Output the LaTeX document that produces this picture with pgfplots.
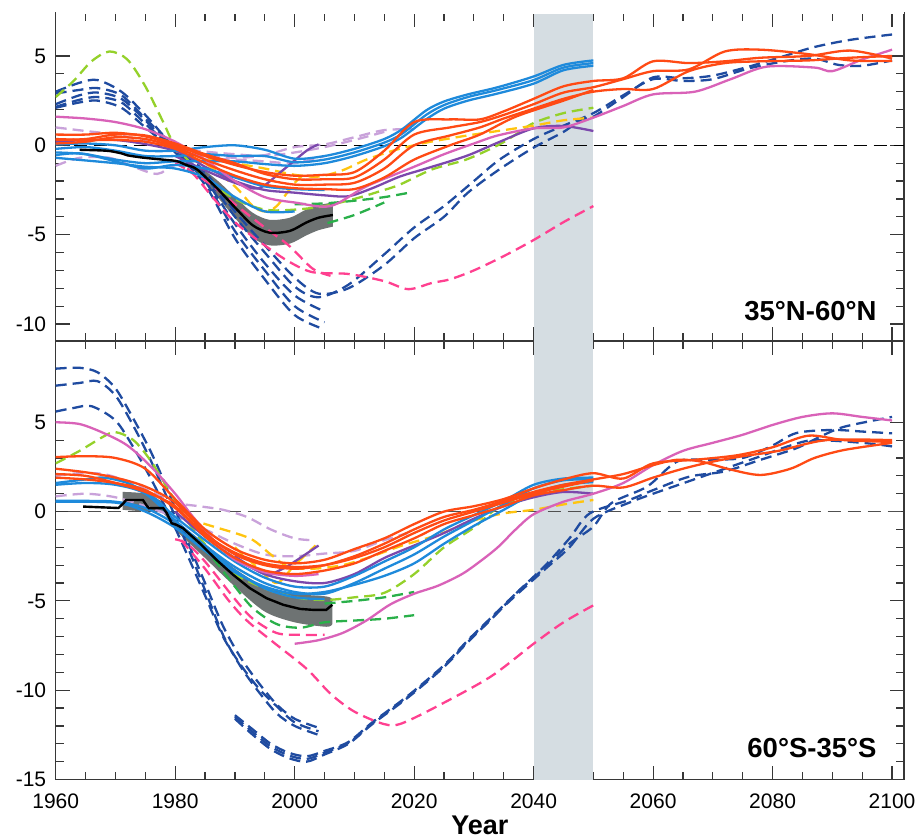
\documentclass[border=0pt]{standalone}
\usepackage{pgfplots}
\pgfplotsset{compat=1.18}
\usepgfplotslibrary{fillbetween}
\usepackage{fontspec}
\setmainfont{Liberation Sans}

\definecolor{cDB}{RGB}{31,75,160}
\definecolor{cLB}{RGB}{30,138,219}
\definecolor{cOR}{RGB}{255,74,20}
\definecolor{cMG}{RGB}{217,98,184}
\definecolor{cLV}{RGB}{201,162,218}
\definecolor{cPU}{RGB}{123,72,172}
\definecolor{cLM}{RGB}{148,209,42}
\definecolor{cGR}{RGB}{42,176,74}
\definecolor{cYL}{RGB}{255,196,15}
\definecolor{cHP}{RGB}{255,64,144}
\definecolor{obsgray}{RGB}{110,115,115}
\definecolor{period}{RGB}{213,221,226}
\definecolor{axgray}{RGB}{55,55,55}

\tikzset{labelfont/.style={font=\bfseries\fontsize{27.5}{30}\selectfont}}

\pgfplotsset{
  panel/.style={
    width=848.3pt, scale only axis,
    xmin=1960, xmax=2102,
    xtick={1960,1980,...,2100}, minor x tick num=3,
    minor y tick num=4,
    tick align=inside,
    major tick length=14pt, minor tick length=8pt,
    every tick/.append style={line width=1.2pt, color=axgray},
    axis line style={line width=1.3pt, color=axgray},
    ticklabel style={font=\fontsize{21}{24}\selectfont, color=black},
    /pgf/number format/assume math mode=true,
    /pgf/number format/1000 sep={},
    yticklabel style={xshift=-6pt},
    xticklabel style={yshift=-11pt},
  },
  sol/.style={line width=2.3pt, smooth},
  dsh/.style={line width=2.3pt, smooth, dash pattern=on 11pt off 6pt},
  db/.style={dsh, draw=cDB},
  lb/.style={sol, draw=cLB},
  or/.style={sol, draw=cOR},
  mg/.style={sol, draw=cMG},
  pu/.style={sol, draw=cPU},
  lv/.style={dsh, draw=cLV},
  lm/.style={dsh, draw=cLM},
  gr/.style={dsh, draw=cGR},
  yl/.style={dsh, draw=cYL},
  hp/.style={dsh, draw=cHP},
  zeroline/.style={line width=1.4pt, dash pattern=on 13pt off 7pt},
  obs/.style={line width=2.4pt, draw=black},
}

\begin{document}
\begin{tikzpicture}

% ---------------- 60S-35S ----------------
\begin{axis}[panel, name=bot, at={(0,0)}, anchor=south west,
  height=438.5pt, ymin=-15, ymax=9.55, ytick={-15,-10,...,5},
  xlabel={Year},
  xlabel style={at={(axis description cs:0.5,0)}, anchor=base, yshift=-55pt,
    font=\bfseries\fontsize{27}{30}\selectfont}]
% 2040-2050 period
\addplot[name path=pbl, draw=none] coordinates {(2040,-15) (2050,-15)};
\addplot[name path=pbu, draw=none] coordinates {(2040,9.55) (2050,9.55)};
\addplot[fill=period, draw=none] fill between[of=pbl and pbu];
\addplot[zeroline, draw={rgb,255:red,80;green,80;blue,80}] coordinates {(1962,0) (2102,0)};

% observations, uncertainty range
\addplot[name path=bup, draw=none, smooth] coordinates {(1971.2,1.1) (1975,1.0) (1978,0.5) (1980,-0.45) (1985,-1.8) (1990,-3.2) (1995,-4.2) (2000,-4.6) (2005.3,-4.75) (2006.3,-4.9)};
\addplot[name path=blo, draw=none, smooth] coordinates {(1971.2,0.1) (1975,0.0) (1978,-0.1) (1980,-1.0) (1985,-2.6) (1990,-4.2) (1995,-5.6) (2000,-6.2) (2005.3,-6.45) (2006.3,-6.3)};
\addplot[fill=obsgray, draw=none] fill between[of=bup and blo];

% lavender dashed
\addplot[lv] coordinates {(1960,2.0) (1964,2.15) (1968,2.1) (1972,1.7) (1976,1.1) (1980,0.5) (1984,0.3) (1988,0.1) (1992,-0.3) (1996,-1.0) (2000,-1.5) (2003,-1.6)};
\addplot[lv] coordinates {(1960,0.85) (1965,1.0) (1970,0.8) (1975,0.3) (1980,-0.3) (1985,-1.0) (1990,-1.8) (1995,-2.4) (2000,-2.5) (2005,-2.35) (2010,-2.2) (2015,-1.6) (2019,-1.2)};

% dark blue dashed
\addplot[db] coordinates {(1960,8.0) (1964,8.05) (1967,7.8) (1970,6.9) (1973,5.2) (1976,3.3) (1979,1.0) (1982,-1.6) (1985,-4.0) (1988,-6.4) (1991,-8.2) (1994,-9.6) (1997,-10.8) (2000,-11.6) (2004,-12.1)};
\addplot[db] coordinates {(1960,7.05) (1964,7.2) (1967,7.3) (1970,6.5) (1973,4.8) (1976,2.8) (1979,0.5) (1982,-1.9) (1985,-4.4) (1988,-6.9) (1991,-8.7) (1994,-10.1) (1997,-11.3) (2000,-12.0) (2004,-12.5)};
\addplot[db] coordinates {(1960,5.6) (1963,5.8) (1966,5.9) (1970,5.1) (1973,3.6) (1976,1.8) (1979,-0.2) (1982,-2.4) (1985,-4.7) (1988,-7.0) (1991,-8.6) (1994,-9.9) (1997,-10.9) (2000,-11.8) (2004,-12.3)};
\addplot[db] coordinates {(1990,-11.4) (1993,-12.2) (1996,-13.0) (1999,-13.5) (2002,-13.7) (2005,-13.4) (2009,-12.9) (2013,-11.8) (2019,-10.3) (2025,-8.6) (2029,-7.2) (2033,-5.9) (2037,-4.6) (2042,-3.1) (2046,-1.8) (2050,-0.84) (2053,0.47) (2059,1.4) (2064,2.8) (2069,2.9) (2075,3.0) (2080,3.7) (2084,4.4) (2090,4.57) (2095,4.48) (2100,4.38)};
\addplot[db] coordinates {(1990,-11.6) (1993,-12.5) (1996,-13.3) (1999,-13.8) (2002,-14.0) (2005,-13.6) (2009,-13.0) (2013,-11.9) (2019,-10.4) (2025,-8.7) (2029,-7.3) (2033,-6.0) (2037,-4.6) (2042,-3.0) (2046,-1.5) (2049.4,-0.1) (2056,0.65) (2060,1.2) (2066,1.95) (2072,2.25) (2078,2.9) (2084,3.55) (2088,4.2) (2092,4.75) (2100,5.3)};
\addplot[db] coordinates {(1990,-11.5) (1993,-12.35) (1996,-13.15) (1999,-13.65) (2002,-13.85) (2005,-13.5) (2009,-12.95) (2013,-11.85) (2019,-10.35) (2025,-8.65) (2029,-7.25) (2033,-5.95) (2037,-4.7) (2042,-3.2) (2046,-2.0) (2050,-0.4) (2056,0.5) (2060,1.0) (2066,1.7) (2072,2.4) (2078,3.1) (2083,3.7) (2087,4.0) (2095,3.85) (2100,3.65)};

% hot pink dashed
\addplot[hp] coordinates {(1980,-1.55) (1982,-1.8) (1985,-2.8) (1990,-4.9) (1993,-6.0) (1997,-6.8) (2001,-6.9) (2005,-6.9)};
\addplot[hp] coordinates {(1981,-1.6) (1985,-3.2) (1989,-5.0) (1992,-6.1) (1996,-7.2) (2002,-8.8) (2006,-10.2) (2010,-11.2) (2015,-11.9) (2018,-11.85) (2025,-10.7) (2033,-9.2) (2040,-7.4) (2045,-6.2) (2050,-5.25)};

% green dashed
\addplot[gr] coordinates {(1982,-1.4) (1986,-2.5) (1990,-4.2) (1993,-5.4) (1997,-6.3) (2001,-6.5) (2005,-6.2) (2010,-6.1) (2015,-6.0) (2020,-5.8)};
\addplot[gr] coordinates {(2005,-5.15) (2010,-5.0) (2015,-4.8) (2020,-4.5)};

% lime dashed
\addplot[lm] coordinates {(1960,2.7) (1964,3.4) (1968,4.2) (1970,4.45) (1973,4.0) (1976,2.8) (1980,0.6) (1983,-1.0) (1987,-2.6) (1990,-3.5) (1995,-4.3) (2000,-4.8) (2005,-4.95) (2010,-4.8) (2015,-4.55) (2020,-3.5) (2025,-2.0) (2030,-0.9) (2034,0.2) (2040,0.95) (2045,1.25) (2050,1.45)};

% yellow dashed
\addplot[yl] coordinates {(1982,-0.4) (1986,-0.8) (1992.5,-1.5) (1996,-2.4) (1999,-3.1) (2003,-3.2) (2008,-3.0) (2013,-2.5) (2018,-1.9) (2024,-1.3) (2030,-0.5) (2035,-0.1) (2040,0.1) (2045,0.4) (2050,0.65)};
\addplot[yl] coordinates {(1990,-2.0) (1994,-3.2) (1997,-4.0) (2000,-3.0) (2003.5,-1.9)};

% purple
\addplot[pu] coordinates {(1990,-2.5) (1995,-3.5) (1998,-3.2) (2000,-2.8) (2004,-1.9)};
\addplot[pu] coordinates {(1980,0.0) (1985,-1.4) (1990,-2.6) (1995,-3.5) (2000,-3.9) (2005,-4.0) (2010,-3.5) (2015,-2.6) (2020,-1.9) (2025,-1.2) (2030,-0.4) (2035,0.3) (2040,0.8) (2045,1.1) (2050,1.0)};

% light blue
\addplot[lb] coordinates {(1960,1.6) (1965,1.8) (1968,1.9) (1972,1.6) (1976,0.9) (1980,-0.3) (1985,-1.6) (1990,-2.8) (1995,-3.7) (2000,-4.2) (2005,-4.2) (2010,-3.6) (2015,-2.8) (2020,-2.0) (2025,-1.0) (2030,-0.2) (2035,0.6) (2040,1.5) (2045,1.85) (2050,1.9)};
\addplot[lb] coordinates {(1960,1.5) (1965,1.6) (1970,1.5) (1975,1.0) (1980,-0.5) (1985,-1.9) (1990,-3.1) (1995,-4.0) (2000,-4.5) (2005,-4.6) (2010,-4.0) (2015,-3.2) (2020,-2.4) (2025,-1.4) (2030,-0.5) (2035,0.4) (2040,1.3) (2045,1.75) (2050,1.8)};
\addplot[lb] coordinates {(1960,0.6) (1965,0.6) (1970,0.55) (1975,0.2) (1980,-0.7) (1985,-2.0) (1990,-3.3) (1995,-4.3) (2000,-4.8) (2005,-4.9)};
\addplot[lb] coordinates {(1960,0.55) (1970,0.5) (1975,0.0) (1980,-0.9) (1985,-2.2) (1990,-3.4) (1995,-4.2) (2000,-4.6) (2005,-4.5) (2010,-4.1) (2015,-3.6) (2020,-2.9) (2025,-1.8) (2030,-0.8) (2035,0.1) (2040,1.0) (2045,1.5) (2050,1.65)};

% magenta
\addplot[mg] coordinates {(1960,5.0) (1964,4.9) (1968,4.4) (1972,3.7) (1976,2.5) (1980,1.0) (1983,-0.3) (1987,-1.8) (1990,-2.7) (1995,-3.4) (2000,-3.6) (2004,-3.5)};
\addplot[mg] coordinates {(2000,-7.4) (2004,-7.2) (2008,-6.8) (2012,-6.1) (2016,-5.2) (2020,-4.6) (2024,-4.15) (2028,-3.5) (2031,-2.8) (2034,-2.0) (2037,-1.0) (2040,-0.15) (2045,0.55) (2050,1.0) (2055,1.6) (2060,2.6) (2065,3.4) (2070,3.85) (2075,4.3) (2080,4.85) (2085,5.3) (2090,5.5) (2095,5.3) (2100,5.1)};

% orange-red
\addplot[or] coordinates {(1960,3.05) (1965,3.1) (1970,3.0) (1975,2.4) (1980,0.7) (1985,-1.0) (1990,-2.1) (1995,-2.7) (2000,-2.9) (2005,-2.7) (2010,-2.1) (2015,-1.5) (2020,-0.7) (2025,0.0) (2030,0.3) (2035,0.7) (2040,1.3) (2045,1.8) (2050,2.15) (2055,1.85) (2060,2.7) (2067,2.9) (2074,3.15) (2080,3.6) (2086,4.25) (2092,4.0) (2100,3.9)};
\addplot[or] coordinates {(1960,2.4) (1965,2.2) (1970,1.9) (1975,1.4) (1980,0.5) (1985,-1.2) (1990,-2.4) (1995,-3.0) (2000,-3.2) (2005,-3.0) (2010,-2.5) (2015,-1.8) (2020,-1.0) (2025,-0.3) (2030,0.1) (2035,0.6) (2040,1.1) (2045,1.5) (2050,1.8) (2055,2.1) (2060,2.6) (2064,2.9) (2068,2.8) (2073,2.35) (2078,2.05) (2083,2.4) (2087,3.0) (2092,3.45) (2100,3.85)};
\addplot[or] coordinates {(1960,2.1) (1965,2.0) (1970,1.6) (1975,1.1) (1980,0.3) (1985,-1.4) (1990,-2.6) (1995,-3.3) (2000,-3.5) (2005,-3.3) (2010,-2.9) (2015,-2.2) (2020,-1.5) (2025,-0.7) (2030,-0.2) (2035,0.3) (2040,0.9) (2045,1.2) (2050,1.45) (2055,1.35) (2060,1.9) (2065,2.4) (2070,2.8) (2075,3.1) (2081,3.4) (2089,4.0) (2100,4.0)};
\addplot[or] coordinates {(1960,1.9) (1965,1.8) (1970,1.6) (1975,1.2) (1980,0.2) (1985,-1.3) (1990,-2.3) (1995,-2.9) (2000,-3.1) (2005,-3.0) (2010,-2.6) (2015,-2.0) (2020,-1.2) (2025,-0.5) (2030,0.0) (2035,0.5) (2040,1.0) (2045,1.4) (2050,1.75)};

% observed mean
\addplot[obs] coordinates {(1964.6,0.28) (1970.5,0.2) (1971.3,0.45) (1971.8,0.65) (1974.6,0.65) (1975.3,0.3) (1975.6,0.19) (1978,0.19) (1978.6,-0.09) (1979.4,-0.65) (1980.2,-0.74) (1981.3,-0.93) (1984.1,-1.77) (1986.9,-2.7) (1989.7,-3.54) (1992.5,-4.29) (1995.3,-4.85) (1998.1,-5.22) (2000.9,-5.45) (2003,-5.5) (2005.3,-5.5) (2006.3,-5.22)};

\node[labelfont, anchor=base east] at (rel axis cs:0.9717,0.0513) {60°S-35°S};
\end{axis}

% ---------------- 35N-60N ----------------
\begin{axis}[panel, name=top, at={(0,438.5pt)}, anchor=south west,
  height=328.3pt, ymin=-10.95, ymax=7.42, ytick={-10,-5,...,5},
  xticklabels={}]
\addplot[name path=qbl, draw=none] coordinates {(2040,-10.95) (2050,-10.95)};
\addplot[name path=qbu, draw=none] coordinates {(2040,7.42) (2050,7.42)};
\addplot[fill=period, draw=none] fill between[of=qbl and qbu];
\addplot[zeroline, draw=black] coordinates {(1963,0) (2102,0)};

\addplot[name path=tup, draw=none, smooth] coordinates {(1980,-0.85) (1983.6,-1.14) (1986.9,-1.92) (1990.3,-2.98) (1993,-3.78) (1995.8,-4.17) (1999.2,-4.05) (2001.9,-3.6) (2004,-3.35) (2006.4,-3.2)};
\addplot[name path=tlo, draw=none, smooth] coordinates {(1980,-0.9) (1983.6,-1.54) (1986.9,-2.82) (1990.3,-4.18) (1993,-5.18) (1995.8,-5.6) (1999.2,-5.5) (2001.9,-5.05) (2004,-4.75) (2006.4,-4.55)};
\addplot[fill=obsgray, draw=none] fill between[of=tup and tlo];

% lavender dashed
\addplot[lv] coordinates {(1960,1.0) (1965,0.8) (1970,0.6) (1975,0.25) (1980,-0.1) (1985,-0.35) (1990,-0.5) (1995,-0.6) (2000,-0.4) (2005,-0.1) (2010,0.3) (2015,0.75)};
\addplot[lv] coordinates {(1960,-1.15) (1964,-0.7) (1969,-0.7) (1973,-1.2) (1977,-1.6) (1980,-1.1) (1985,-0.8) (1990,-0.8) (1995,-0.9) (2000,-1.0) (2005,-0.6)};
\addplot[lv] coordinates {(1980,-0.3) (1985,-0.5) (1990,-0.7) (1995,-0.55) (2000,-0.1) (2005,0.05) (2010,0.45) (2015,0.85) (2020,0.9)};

% dark blue dashed
\addplot[db] coordinates {(1960,3.0) (1964,3.5) (1967,3.65) (1971,3.0) (1975,1.7) (1980,-0.2) (1985,-1.9) (1990,-4.4) (1995,-6.6) (2000,-8.4) (2005,-9.3)};
\addplot[db] coordinates {(1960,2.3) (1964,2.8) (1967,2.95) (1971,2.6) (1975,1.4) (1980,-0.3) (1985,-2.0) (1990,-4.8) (1995,-7.0) (2000,-9.0) (2005,-9.9)};
\addplot[db] coordinates {(1960,2.1) (1964,2.4) (1967,2.5) (1971,2.1) (1975,1.0) (1980,-0.4) (1985,-2.2) (1990,-5.2) (1995,-7.5) (2000,-9.5) (2005,-10.3)};
\addplot[db] coordinates {(1960,2.9) (1964,3.1) (1967,3.2) (1971,2.8) (1975,1.5) (1980,-0.1) (1985,-1.5) (1990,-3.7) (1995,-5.6) (2000,-7.4) (2004,-8.3) (2009,-8.0) (2015,-6.7) (2020,-5.2) (2025,-4.0) (2029,-2.65) (2034.3,-1.34) (2040,-0.13) (2045,0.75) (2048,1.45) (2050,1.6) (2055,2.7) (2060,3.8) (2065,3.75) (2070,3.9) (2076,4.4) (2082,5.0) (2087,5.5) (2093,5.9) (2100,6.2)};
\addplot[db] coordinates {(1960,2.15) (1964,2.55) (1967,2.7) (1971,2.4) (1975,1.2) (1980,-0.3) (1985,-1.7) (1990,-4.0) (1995,-6.0) (2000,-7.9) (2004,-8.5) (2009,-7.8) (2015,-6.1) (2020,-4.6) (2025,-3.4) (2030,-2.0) (2034.3,-0.8) (2040,0.35) (2045,1.1) (2050,1.8) (2055,2.8) (2060,3.7) (2065,3.6) (2070,3.7) (2076,4.3) (2082,4.7) (2087,4.85) (2091,4.5) (2095,4.45) (2100,4.75)};

% hot pink dashed
\addplot[hp] coordinates {(1980,-1.0) (1983,-1.6) (1986,-2.8) (1990,-4.3) (1995,-5.6) (1999,-6.5) (2003,-7.1) (2009,-7.2) (2015,-7.6) (2019,-8.05) (2023,-7.7) (2026,-7.5) (2030,-7.0) (2035,-6.2) (2040,-5.3) (2045,-4.3) (2050,-3.4)};
\addplot[hp] coordinates {(1982,-1.3) (1986,-2.2) (1990,-3.3) (1995,-4.6) (1999,-5.6) (2003,-6.9) (2006,-7.3)};

% lime dashed
\addplot[lm] coordinates {(1960,2.7) (1963,3.6) (1966,4.7) (1969,5.25) (1972,4.8) (1975,3.3) (1978,1.3) (1980,0.0) (1985,-1.8) (1990,-3.0) (1995,-3.6) (2000,-3.6) (2005,-3.4) (2010,-3.0) (2014,-2.6) (2017.6,-2.2) (2023,-1.35) (2028.7,-0.8) (2034,0.0) (2037,0.6) (2040,1.25) (2045,1.8) (2050,2.1)};

% green dashed
\addplot[gr] coordinates {(2000,-3.3) (2005,-3.25) (2010,-3.1) (2015,-2.9) (2019.2,-2.65)};
\addplot[gr] coordinates {(2005.5,-4.35) (2010,-3.9) (2015,-3.2)};

% yellow dashed
\addplot[yl] coordinates {(1980,-0.3) (1985,-1.0) (1990,-2.3) (1993,-3.4) (1995,-3.7) (1997,-3.4) (2000,-2.1) (2002,-1.5)};
\addplot[yl] coordinates {(1980,-0.3) (1985,-0.7) (1990,-1.0) (1995,-1.3) (2000,-1.65) (2004,-1.75) (2008,-1.4) (2012,-0.8) (2017,-0.25) (2022,0.15) (2028,0.5) (2034,0.8) (2040,1.1) (2045,1.4) (2050,1.55)};

% purple
\addplot[pu] coordinates {(1980,-0.6) (1985,-1.4) (1990,-2.1) (1994,-2.4) (1998,-1.4) (2002,-0.3) (2004,0.05)};
\addplot[pu] coordinates {(1960,0.2) (1970,0.3) (1980,-0.3) (1985,-1.2) (1990,-2.0) (1995,-2.5) (2000,-2.65) (2005,-2.8) (2009,-2.85) (2013,-2.4) (2017.6,-1.75) (2022,-1.3) (2028.7,-0.6) (2034,0.15) (2040,0.95) (2045,1.08) (2050,0.8)};

% light blue
\addplot[lb] coordinates {(1960,0.05) (1965,0.1) (1970,0.0) (1975,-0.3) (1980,-0.3) (1985,-0.1) (1990,0.0) (1995,-0.25) (2000,-0.75) (2005,-0.6) (2010,-0.2) (2015,0.35) (2018,0.9) (2022,1.95) (2025,2.45) (2029,2.85) (2034,3.25) (2040,3.85) (2045,4.5) (2050,4.75)};
\addplot[lb] coordinates {(1960,-0.2) (1965,-0.1) (1970,-0.3) (1975,-0.6) (1980,-0.6) (1985,-0.5) (1990,-0.6) (1995,-0.6) (2000,-0.95) (2005,-0.8) (2010,-0.4) (2015,0.15) (2018,0.65) (2022,1.7) (2025,2.25) (2029,2.7) (2034,3.1) (2040,3.65) (2045,4.35) (2050,4.6)};
\addplot[lb] coordinates {(1960,-0.55) (1964,-0.45) (1970,-0.8) (1975,-1.0) (1980,-0.9) (1985,-0.9) (1990,-0.9) (1995,-1.05) (2000,-1.15) (2005,-1.0) (2010,-0.6) (2015,-0.05) (2018,0.45) (2022,1.45) (2025,2.05) (2029,2.5) (2034,2.9) (2040,3.45) (2045,4.2) (2050,4.45)};
\addplot[lb] coordinates {(1960,-0.4) (1965,-0.5) (1970,-0.9) (1975,-1.3) (1980,-1.1) (1985,-1.3) (1990,-1.8) (1995,-2.3) (2000,-2.45) (2005,-2.5)};
\addplot[lb] coordinates {(1960,-0.7) (1970,-1.0) (1975,-1.2) (1980,-1.3) (1985,-1.8) (1990,-2.9) (1995,-3.7) (2000,-3.7)};

% magenta
\addplot[mg] coordinates {(1960,1.6) (1965,1.5) (1970,1.3) (1975,0.9) (1980,0.2) (1985,-0.8) (1990,-2.0) (1995,-2.9) (2000,-3.2) (2006,-3.4) (2012,-2.3) (2020,-1.2) (2025,-0.5) (2030,0.1) (2034,0.55) (2040,0.95) (2045,1.0) (2050,1.55) (2055,2.2) (2060,2.85) (2067,3.0) (2073,3.7) (2079,4.4) (2087,4.35) (2090,4.15) (2095,4.8) (2100,5.35)};

% orange-red
\addplot[or] coordinates {(1960,0.6) (1965,0.6) (1970,0.7) (1975,0.5) (1980,0.0) (1985,-0.6) (1990,-1.1) (1995,-1.5) (2000,-1.7) (2005,-1.65) (2010,-1.5) (2015,-0.3) (2020,1.3) (2026,1.45) (2031,1.45) (2035,1.9) (2040,2.6) (2045,3.3) (2050,3.6) (2055,3.75) (2060,4.7) (2066,4.6) (2072,4.7) (2078,4.9) (2086,5.0) (2093,5.3) (2100,4.85)};
\addplot[or] coordinates {(1960,0.3) (1965,0.35) (1970,0.6) (1975,0.55) (1980,0.1) (1985,-0.5) (1990,-1.0) (1995,-1.6) (2000,-1.9) (2005,-1.9) (2010,-1.8) (2015,-0.8) (2020,0.6) (2026,1.0) (2031,1.3) (2035,1.7) (2040,2.3) (2045,2.95) (2050,3.25) (2055,3.7) (2060,4.15) (2066,4.25) (2072,5.25) (2078,5.35) (2086,5.1) (2093,4.75) (2100,4.72)};
\addplot[or] coordinates {(1960,0.1) (1965,0.2) (1970,0.45) (1975,0.35) (1980,-0.1) (1985,-0.8) (1990,-1.4) (1995,-1.9) (2000,-2.2) (2005,-2.2) (2010,-2.1) (2015,-1.3) (2020,0.0) (2026,0.55) (2031,1.0) (2035,1.5) (2040,2.05) (2045,2.6) (2050,3.0) (2055,3.15) (2060,3.15) (2066,4.15) (2072,4.6) (2078,4.7) (2086,4.75) (2093,4.9) (2100,5.0)};
\addplot[or] coordinates {(1960,0.35) (1965,0.3) (1970,0.3) (1975,0.2) (1980,-0.2) (1985,-1.0) (1990,-1.7) (1995,-2.2) (2000,-2.4) (2005,-2.45) (2010,-2.45) (2015,-1.8) (2020,-0.8) (2026,0.0) (2031,0.6) (2037,1.6) (2045,2.5) (2050,3.1)};

% observed mean
\addplot[obs, smooth] coordinates {(1964,-0.25) (1967,-0.28) (1969,-0.32) (1971,-0.45) (1972,-0.56) (1974.6,-0.69) (1978.5,-0.82) (1980.2,-0.88) (1982,-1.12) (1983.6,-1.34) (1986.9,-2.37) (1990.3,-3.58) (1993,-4.48) (1995.8,-4.89) (1999.2,-4.79) (2001.9,-4.33) (2004,-4.05) (2006.4,-3.9)};

\node[labelfont, anchor=base east] at (rel axis cs:0.9717,0.061) {35°N-60°N};
\end{axis}
\draw[white, line width=2.2pt] (top.north west) -- (top.north east);
\pgfresetboundingbox
\useasboundingbox (-55.7pt,-59.5pt) rectangle (861.3pt,779.5pt);
\end{tikzpicture}
\end{document}
